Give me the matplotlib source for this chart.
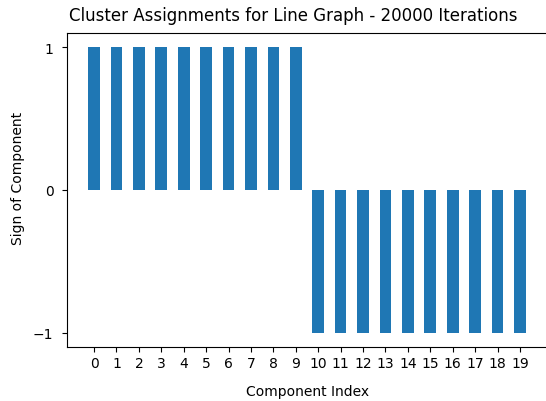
import matplotlib
matplotlib.use("Agg")
import matplotlib.pyplot as plt
import numpy as np

components = list(range(20))
signs = [1]*10 + [-1]*10
xtick_labels = [str(i) for i in components]
ytick_values = [-1, 0, 1]

fig = plt.figure(figsize=(5.46, 4.02), dpi=100)
ax = fig.add_axes([66.7/546, 1-347.7/402, (548-66.7)/546, (347.7-34.3)/402])
ax.bar(components, signs, width=0.52, color='#1f77b4')
ax.set_xlim(-1.22, 20.25)
ax.set_ylim(-1.098, 1.096)
ax.set_xticks(components)
ax.set_xticklabels(xtick_labels)
ax.set_yticks(ytick_values)
ax.tick_params(axis='x', pad=3)
ax.tick_params(axis='y', pad=6)
ax.spines['right'].set_visible(False)
ax.set_xlabel('Component Index', labelpad=10)
ax.set_ylabel('Sign of Component')
ax.yaxis.set_label_coords(-0.086, 0.54)
fig.text(293/546, 1-16/402, 'Cluster Assignments for Line Graph - 20000 Iterations',
         ha='center', va='center', fontsize=12)
fig.savefig('out.png', dpi=100)
